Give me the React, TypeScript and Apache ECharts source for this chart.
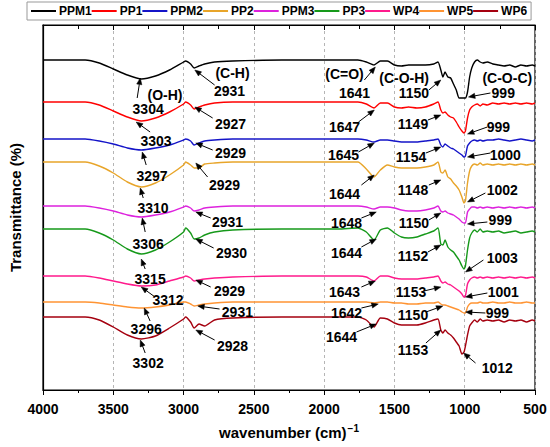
import React, { useEffect, useRef } from "react";
import * as echarts from "echarts";

const FONT = '"Liberation Sans", Arial, Helvetica, sans-serif';

// wavenumber grid (cm-1)
const wavenumbers = [
  4000, 3700, 3600, 3500, 3400, 3300, 3200, 3100, 3000, 2985, 2950, 2925, 2890, 2850, 2780, 2650,
  2300, 1900, 1760, 1700, 1645, 1600, 1550, 1500, 1450, 1400, 1340, 1280, 1220, 1190, 1170, 1155,
  1140, 1120, 1100, 1080, 1060, 1040, 1020, 1005, 995, 980, 965, 950, 930, 910, 890, 870, 840, 800,
  760, 720, 680, 640, 600, 560, 520, 500,
];

const seriesNames = ["PPM1", "PP1", "PPM2", "PP2", "PPM3", "PP3", "WP4", "WP5", "WP6"];
const seriesColors = ["#000000", "#ff0000", "#1414c8", "#e8a52a", "#dd22dd", "#16991a", "#ff1a8c", "#ff9433", "#a5000f"];

// transmittance (offset, arbitrary units)
const ppm1 = [330,330,327,321,315,311,314,320,328,329,326,322,324,326,328,329,330,330,330,328,325,329,329,325,324,325,325,325,326,328,320,313,318,313,312,306,300,292,292,292,292,298,313,322,328,330,328,327,328,326,325,324,325,323,325,324,325,324];
const pp1 = [288,288,285,279,273,269,272,278,286,288,285,281,283,285,287,288,288,288,288,286,282,287,287,283,282,283,282,283,286,288,280,277,278,275,273,272,268,263,259,257,259,272,280,283,285,286,284,286,285,287,286,287,286,287,286,287,286,287];
const ppm2 = [251,251,249,246,242,240,242,245,250,251,249,245,247,249,250,251,251,251,251,250,248,250,250,249,248,248,248,249,250,251,245,243,246,244,242,241,239,237,235,233,234,244,247,249,250,249,250,249,250,250,251,250,249,250,251,250,249,250];
const pp2 = [228,228,224,217,208,203,207,215,225,228,225,222,222,226,227,228,228,228,228,221,213,220,225,223,222,222,222,223,225,228,218,217,220,213,211,207,204,200,193,187,189,207,219,224,226,225,227,225,226,225,226,225,226,225,226,225,226,225];
const ppm3 = [184,184,182,179,175,173,175,178,183,184,182,179,180,182,183,184,184,184,184,183,181,183,183,182,180,179,179,180,182,184,179,178,179,177,176,175,173,171,168,167,167,178,181,183,183,182,183,182,183,182,183,182,183,182,183,182,183,182];
const pp3 = [161,161,157,150,141,136,140,148,158,162,157,151,152,155,158,160,161,161,162,158,150,160,162,157,153,152,153,156,159,162,146,145,150,143,140,138,134,130,124,121,124,140,152,157,160,158,161,158,159,158,159,157,158,159,157,158,159,158];
const wp4 = [114,114,112,109,106,104,105,109,113,114,112,109,110,111,112,113,114,114,114,113,109,114,114,112,111,111,111,112,113,114,109,107,108,106,105,103,101,99,96,93,94,106,110,112,113,112,113,112,113,112,113,112,113,112,113,112,113,112];
const wp5 = [88,88,87,85,83,82,83,85,88,88,86,84,85,86,87,88,88,88,88,88,87,88,88,87,87,86,86,87,87,88,86,85,85,84,83,82,81,80,78,77,77,83,86,87,87,87,88,87,87,88,87,87,88,87,87,88,87,87];
const wp6 = [73,73,70,63,55,51,54,62,71,73,68,62,66,64,70,72,73,73,73,70,63,72,71,67,65,65,65,67,70,71,60,57,60,57,55,52,48,44,36,38,44,55,64,67,70,68,71,69,70,69,70,68,70,69,70,68,70,69];
const seriesValues = [ppm1, pp1, ppm2, pp2, ppm3, pp3, wp4, wp5, wp6];

const xTicks = [4000, 3500, 3000, 2500, 2000, 1500, 1000, 500];

// peak annotations: label text, label position, arrow tail, arrow head (wavenumber, value)
const peakLabels = [
  "3304","2931","1641","1150","999",
  "3303","2927","1647","1149","999",
  "3297","2929","1645","1154","1000",
  "3310","2929","1644","1148","1002",
  "3306","2931","1648","1150","999",
  "3315","2930","1644","1152","1003",
  "3312","2929","1643","1153","1001",
  "3296","2931","1642","1150","999",
  "3302","2928","1644","1153","1012",
];
const peakLabelPos = [
  [3252,281],[2673,299],[1784,297],[1361,297],[726,297],
  [3196,249],[2666,266],[1855,263],[1368,266],[761,263],
  [3224,214],[2666,237],[1862,235],[1382,233],[711,235],
  [3217,182],[2709,205],[1855,196],[1368,200],[733,200],
  [3252,146],[2687,168],[1841,167],[1361,167],[747,170],
  [3238,111],[2659,137],[1841,137],[1368,134],[733,132],
  [3111,90],[2673,99],[1855,98],[1382,98],[726,98],
  [3266,61],[2617,78],[1841,77],[1368,75],[768,77],
  [3252,27],[2652,44],[1876,53],[1368,40],[768,22],
];
const arrowTail = [
  [3330,292],[2779,305],[1714,310],[1255,300],[817,297],
  [3238,258],[2793,272],[1756,268],[1262,270],[839,263],
  [3266,225],[2793,240],[1756,238],[1276,237],[817,237],
  [3287,192],[2829,213],[1735,205],[1255,205],[853,197],
  [3273,158],[2807,172],[1735,172],[1255,170],[839,168],
  [3273,121],[2786,142],[1735,143],[1262,138],[867,130],
  [3203,93],[2807,103],[1735,103],[1290,99],[839,97],
  [3238,69],[2744,81],[1735,82],[1276,78],[853,77],
  [3273,37],[2779,50],[1770,58],[1276,47],[923,27],
];
const arrowHead = [
  [3308,312],[2920,320],[1636,323],[1170,310],[973,293],
  [3337,268],[2920,283],[1643,280],[1170,275],[980,256],
  [3294,238],[2913,247],[1643,247],[1170,243],[980,233],
  [3308,202],[2913,227],[1643,215],[1170,210],[980,188],
  [3294,172],[2913,178],[1629,178],[1170,177],[980,166],
  [3301,131],[2913,151],[1629,151],[1170,145],[994,118],
  [3301,103],[2913,110],[1636,109],[1170,103],[994,93],
  [3280,82],[2899,84],[1615,86],[1156,84],[994,78],
  [3308,50],[2913,60],[1629,66],[1170,60],[1008,37],
];

const bandLabels = ["(O-H)", "(C-H)", "(C=O)", "(C-O-H)", "(C-O-C)"];
const bandLabelPos = [[3132,295],[2652,317],[1855,316],[1431,312],[697,312]];

export default function App() {
  const ref = useRef<HTMLDivElement>(null);

  useEffect(() => {
    if (!ref.current) return;
    const chart = echarts.init(ref.current, undefined, { renderer: "svg" });

    const lineSeries = seriesNames.map((name, si) => ({
      name,
      type: "line",
      data: wavenumbers.map((w, i) => [w, seriesValues[si][i]]),
      showSymbol: false,
      symbol: "none",
      smooth: 0.2,
      lineStyle: { color: seriesColors[si], width: 1.4 },
      itemStyle: { color: seriesColors[si] },
      z: 3,
    }));

    const annData = peakLabelPos.map((p, i) => [p[0], p[1], arrowTail[i][0], arrowTail[i][1], arrowHead[i][0], arrowHead[i][1]]);

    const option: any = {
      animation: false,
      backgroundColor: "#ffffff",
      textStyle: { fontFamily: FONT },
      grid: { left: 39, right: 15, top: 25, bottom: 57, show: true, borderColor: "#000", borderWidth: 1.2, backgroundColor: "transparent" },
      legend: {
        data: seriesNames,
        left: 27,
        top: 2,
        itemGap: 0,
        itemWidth: 25,
        itemHeight: 2,
        icon: "rect",
        padding: [3, 4],
        borderColor: "#999",
        borderWidth: 1,
        selectedMode: false,
        textStyle: { fontFamily: FONT, fontSize: 12, fontWeight: "bold", color: "#000", padding: [0, 0, 0, -2] },
      },
      xAxis: [
        {
          type: "value",
          min: 500,
          max: 4000,
          interval: 500,
          inverse: true,
          position: "bottom",
          axisLine: { show: true, lineStyle: { color: "#000", width: 1.2 } },
          axisTick: { show: true, inside: false, length: 5, lineStyle: { color: "#000" } },
          minorTick: { show: true, splitNumber: 2, length: 3, lineStyle: { color: "#000" } },
          axisLabel: {
            show: true,
            margin: 12,
            fontFamily: FONT,
            fontSize: 14,
            fontWeight: "bold",
            color: "#000",
            formatter: (v: number) => (xTicks.includes(v) ? String(v) : ""),
          },
          splitLine: { show: true, lineStyle: { color: "#b5b5b5", type: [3, 3], width: 1 } },
          name: "{a|wavenumber (cm)}{b|−1}",
          nameLocation: "middle",
          nameGap: 33,
          nameTextStyle: {
            color: "#000",
            rich: {
              a: { fontFamily: FONT, fontSize: 15, fontWeight: "bold", color: "#000" },
              b: { fontFamily: FONT, fontSize: 10, fontWeight: "bold", color: "#000", verticalAlign: "top", padding: [0, 0, 8, 1] },
            },
          },
        },
        {
          type: "value",
          min: 500,
          max: 4000,
          interval: 500,
          inverse: true,
          position: "top",
          axisLine: { show: true, lineStyle: { color: "#000", width: 1.2 } },
          axisTick: { show: true, inside: true, length: 5, lineStyle: { color: "#000" } },
          minorTick: { show: true, splitNumber: 2, length: 4, lineStyle: { color: "#000" } },
          axisLabel: { show: false },
          splitLine: { show: false },
        },
      ],
      yAxis: {
        type: "value",
        min: 0,
        max: 365,
        axisLine: { show: true, lineStyle: { color: "#000", width: 1.2 } },
        axisTick: { show: false },
        axisLabel: { show: false },
        splitLine: { show: false },
        name: "Transmittance (%)",
        nameLocation: "middle",
        nameGap: 20,
        nameTextStyle: { fontFamily: FONT, fontSize: 15, fontWeight: "bold", color: "#000" },
      },
      series: [
        ...lineSeries,
        {
          type: "custom",
          name: "peaks",
          coordinateSystem: "cartesian2d",
          xAxisIndex: 0,
          yAxisIndex: 0,
          clip: false,
          z: 10,
          silent: true,
          data: annData,
          encode: { x: [0, 2, 4], y: [1, 3, 5] },
          renderItem: (params: any, api: any) => {
            const i = params.dataIndex;
            const l = api.coord([api.value(0), api.value(1)]);
            const t = api.coord([api.value(2), api.value(3)]);
            const h = api.coord([api.value(4), api.value(5)]);
            const dx = h[0] - t[0];
            const dy = h[1] - t[1];
            const len = Math.hypot(dx, dy) || 1;
            const ux = dx / len;
            const uy = dy / len;
            const al = 6.5;
            const aw = 2.6;
            const bx = h[0] - ux * al;
            const by = h[1] - uy * al;
            return {
              type: "group",
              children: [
                {
                  type: "line",
                  shape: { x1: t[0], y1: t[1], x2: bx, y2: by },
                  style: { stroke: "#000", lineWidth: 1 },
                },
                {
                  type: "polygon",
                  shape: { points: [[h[0], h[1]], [bx - uy * aw, by + ux * aw], [bx + uy * aw, by - ux * aw]] },
                  style: { fill: "#000", stroke: "#000", lineWidth: 0.5 },
                },
                {
                  type: "text",
                  x: l[0],
                  y: l[1],
                  style: {
                    text: peakLabels[i],
                    align: "center",
                    verticalAlign: "middle",
                    fontFamily: FONT,
                    fontSize: 14,
                    fontWeight: "bold",
                    fill: "#000",
                  },
                },
              ],
            };
          },
        },
        {
          type: "custom",
          name: "bands",
          coordinateSystem: "cartesian2d",
          xAxisIndex: 0,
          yAxisIndex: 0,
          clip: false,
          z: 10,
          silent: true,
          data: bandLabelPos,
          encode: { x: 0, y: 1 },
          renderItem: (params: any, api: any) => {
            const p = api.coord([api.value(0), api.value(1)]);
            return {
              type: "text",
              x: p[0],
              y: p[1],
              style: {
                text: bandLabels[params.dataIndex],
                align: "center",
                verticalAlign: "middle",
                fontFamily: FONT,
                fontSize: 14,
                fontWeight: "bold",
                fill: "#000",
              },
            };
          },
        },
      ],
    };

    chart.setOption(option);
    return () => chart.dispose();
  }, []);

  return <div ref={ref} style={{ width: 550, height: 447, position: "absolute", left: 0, top: 0 }} />;
}
